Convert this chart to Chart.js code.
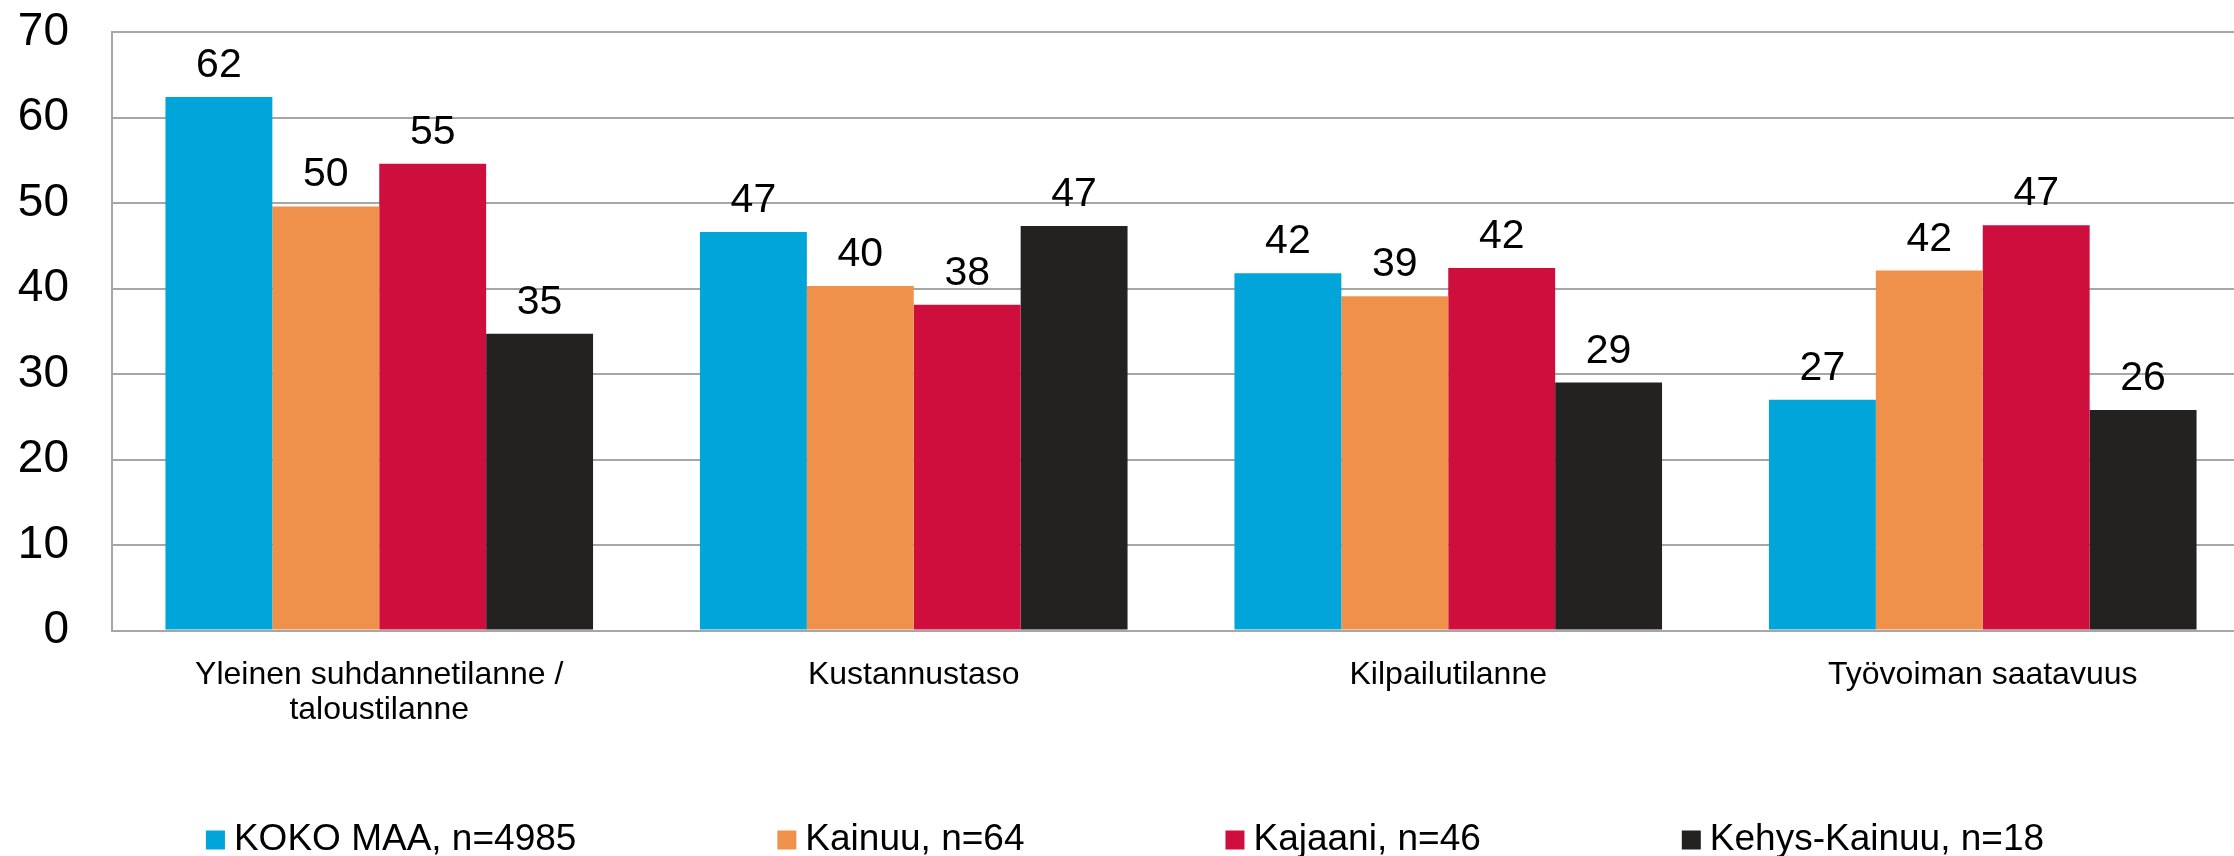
<!DOCTYPE html>
<html lang="fi">
<head>
  <meta charset="UTF-8">
  <title>Kainuu – vaikutus yritystoimintaan</title>
  <script src="https://cdn.jsdelivr.net/npm/chart.js"></script>
  <style>
    html, body { margin: 0; padding: 0; background: #fff; overflow: hidden; }
    /* plot runs a bit past the right edge of the window, like the original */
    .wrap { position: relative; width: 2250px; height: 856px; }
  </style>
</head>
<body>
  <div class="wrap"><canvas id="chart"></canvas></div>

  <script>
    // Data
    const categories = [
      ['Yleinen suhdannetilanne /', 'taloustilanne'],
      'Kustannustaso',
      'Kilpailutilanne',
      'Työvoiman saatavuus'
    ];
    const seriesNames = ['KOKO MAA, n=4985', 'Kainuu, n=64', 'Kajaani, n=46', 'Kehys-Kainuu, n=18'];
    const kokoMaa = [62.4, 46.6, 41.8, 27.0];
    const kainuu = [49.6, 40.3, 39.1, 42.1];
    const kajaani = [54.6, 38.1, 42.4, 47.4];
    const kehysKainuu = [34.7, 47.3, 29.0, 25.8];
    const yMin = 0;
    const yMax = 70;
    const yStep = 10;

    const colors = ['#02A5DA', '#F0914B', '#CE0F3D', '#232221'];
    const fontFamily = '"Liberation Sans", Arial, sans-serif';
    const gridColor = '#a6a6a6';

    // Value labels above each bar
    const valueLabels = {
      id: 'valueLabels',
      afterDatasetsDraw(chart) {
        const ctx = chart.ctx;
        ctx.save();
        ctx.font = '41px ' + fontFamily;
        ctx.fillStyle = '#000';
        ctx.textAlign = 'center';
        ctx.textBaseline = 'alphabetic';
        chart.data.datasets.forEach((ds, i) => {
          chart.getDatasetMeta(i).data.forEach((bar, j) => {
            ctx.fillText(Math.round(ds.data[j]), bar.x, bar.y - 20);
          });
        });
        ctx.restore();
      }
    };

    // Legend row at the bottom (square, small gap, text; equal gaps between items)
    const bottomLegend = {
      id: 'bottomLegend',
      afterDraw(chart) {
        const ctx = chart.ctx;
        const box = 19, textGap = 9, itemGap = 201;
        ctx.save();
        ctx.font = '37px ' + fontFamily;
        ctx.textBaseline = 'middle';
        ctx.textAlign = 'left';
        const widths = chart.data.datasets.map(ds => box + textGap + ctx.measureText(ds.label).width);
        const total = widths.reduce((a, b) => a + b, 0) + itemGap * (widths.length - 1);
        let x = (chart.width - total) / 2;
        const y = chart.height - 16;
        chart.data.datasets.forEach((ds, i) => {
          ctx.fillStyle = ds.backgroundColor;
          ctx.fillRect(x, y - box / 2, box, box);
          ctx.fillStyle = '#000';
          ctx.fillText(ds.label, x + box + textGap, y);
          x += widths[i] + itemGap;
        });
        ctx.restore();
      }
    };

    const allSeries = [kokoMaa, kainuu, kajaani, kehysKainuu];

    new Chart(document.getElementById('chart'), {
      type: 'bar',
      data: {
        labels: categories,
        datasets: allSeries.map((values, i) => ({
          label: seriesNames[i],
          data: values,
          backgroundColor: colors[i],
          borderWidth: 0,
          categoryPercentage: 0.8,
          barPercentage: 1.0
        }))
      },
      options: {
        responsive: true,
        maintainAspectRatio: false,
        animation: false,
        layout: {
          padding: { top: 32, left: 18, right: 0, bottom: 101 }
        },
        plugins: {
          legend: { display: false },
          tooltip: { enabled: false }
        },
        scales: {
          x: {
            grid: { display: false, drawTicks: false },
            border: { display: true, color: gridColor, width: 2 },
            ticks: {
              color: '#000',
              padding: 27,
              maxRotation: 0,
              autoSkip: false,
              font: { family: fontFamily, size: 32, lineHeight: 1.1 }
            }
          },
          y: {
            min: yMin,
            max: yMax,
            grid: { color: gridColor, lineWidth: 2, drawTicks: false },
            border: { display: true, color: gridColor, width: 2 },
            ticks: {
              stepSize: yStep,
              color: '#000',
              padding: 43,
              font: { family: fontFamily, size: 46 }
            },
            // Chart.js counts the tick padding twice; keep the axis tight like the original
            afterFit(scale) {
              scale.width = 94;
              scale.paddingTop = 0;
              scale.paddingBottom = 0;
            }
          }
        }
      },
      plugins: [valueLabels, bottomLegend]
    });
  </script>
</body>
</html>
